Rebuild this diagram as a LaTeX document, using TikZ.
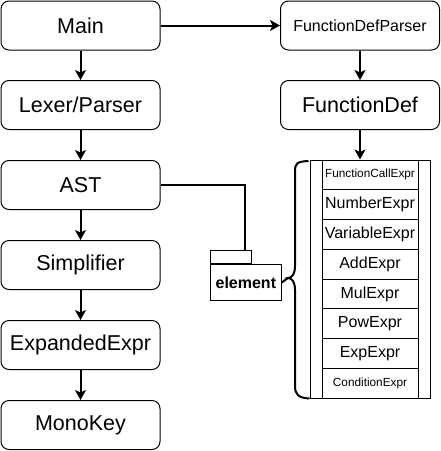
\documentclass[tikz,border=0pt]{standalone}
\usepackage{fontspec}
\setmainfont{Liberation Sans}
\usetikzlibrary{arrows.meta,positioning}
\begin{document}
\begin{tikzpicture}[x=1pt,y=-1pt,
  box/.style={draw,line width=1pt,rounded corners=8pt,minimum width=159pt,minimum height=49pt,inner sep=0pt,font=\fontsize{21.5}{24}\selectfont},
  row/.style={draw,line width=1pt,minimum width=96pt,minimum height=29.75pt,inner sep=0pt,font=\fontsize{16}{18}\selectfont},
  srow/.style={row,font=\fontsize{11.8}{14}\selectfont},
  conn/.style={line width=2pt,-{Stealth[width=11pt,length=10pt,inset=2.5pt]}},
  line/.style={line width=2pt}]
\useasboundingbox (0,0) rectangle (441,451);
% left column
\node[box] (main) at (80.5,25.5) {Main};
\node[box] (lexer) at (80.5,105) {Lexer/Parser};
\node[box] (ast) at (80.5,185) {AST};
\node[box] (simp) at (80.5,265) {Simplifier};
\node[box] (exp) at (80.5,345) {ExpandedExpr};
\node[box] (mono) at (80.5,425) {MonoKey};
% right column
\node[box,font=\fontsize{16}{18}\selectfont] (fdp) at (360,25.5) {FunctionDefParser};
\node[box] (fd) at (360,105) {FunctionDef};
% arrows
\draw[conn] (main) -- (lexer);
\draw[conn] (lexer) -- (ast);
\draw[conn] (ast) -- (simp);
\draw[conn] (simp) -- (exp);
\draw[conn] (exp) -- (mono);
\draw[conn] (main) -- (fdp);
\draw[conn] (fdp) -- (fd);
% list
\node[draw,line width=1pt,minimum width=120pt,minimum height=238pt,inner sep=0pt] (list) at (370,279) {};
\node[srow] (r1) at (370,174.875) {FunctionCallExpr};
\node[row]  (r2) at (370,204.625) {NumberExpr};
\node[row]  (r3) at (370,234.375) {VariableExpr};
\node[row]  (r4) at (370,264.125) {AddExpr};
\node[row]  (r5) at (370,293.875) {MulExpr};
\node[row]  (r6) at (370,323.625) {PowExpr};
\node[row]  (r7) at (370,353.375) {ExpExpr};
\node[srow] (r8) at (370,383.125) {ConditionExpr};
\draw[conn] (fd) -- (list.north -| fd);
% element folder
\node[draw,line width=1pt,minimum width=40.7pt,minimum height=13.3pt,inner sep=0pt,anchor=south west] (tab) at (210,264) {};
\node[draw,line width=1pt,minimum width=70.7pt,minimum height=36pt,inner sep=0pt,anchor=north west,font=\bfseries\fontsize{16}{18}\selectfont] (elem) at (210,264) {element};
\coordinate (bend) at (245,185);
\draw[line] (ast.east) -- (bend) -- (bend |- tab.north);
% brace
\coordinate (tip) at (288,278);
\draw[line] (elem.east) -- (tip);
\draw[line] (list.north west) ++(-1,1.5) .. controls (296,161.5) and (295,164) .. (295,172)
  -- (295,266) .. controls (295,274) and (292,278) .. (tip)
  .. controls (292,278) and (295,282) .. (295,290)
  -- (295,386) .. controls (295,394) and (298,398) .. (list.south west);
\end{tikzpicture}
\end{document}
